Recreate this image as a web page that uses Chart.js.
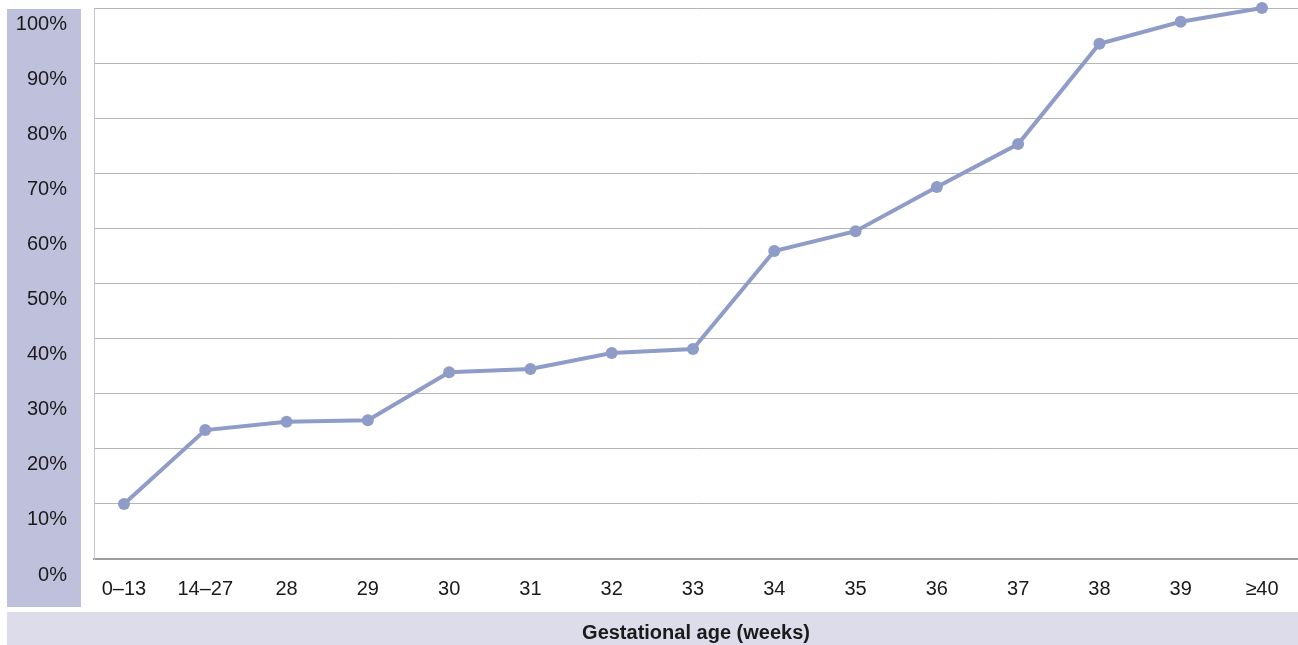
<!DOCTYPE html>
<html>
<head>
<meta charset="utf-8">
<script src="https://cdn.jsdelivr.net/npm/chart.js@4/dist/chart.umd.min.js"></script>
<style>
  html, body { margin: 0; padding: 0; background: #ffffff; }
  #wrap { width: 1298px; height: 645px; position: relative; }
</style>
</head>
<body>
<div id="wrap"><canvas id="ageChart"></canvas></div>
<script>
// Nhãn trục x (tuần thai)
const categories = ['0\u201313', '14\u201327', '28', '29', '30', '31', '32', '33', '34', '35', '36', '37', '38', '39', '\u226540'];
// Giá trị tích lũy (%)
const cumulative = [10.0, 23.4, 24.9, 25.2, 33.9, 34.5, 37.4, 38.1, 55.9, 59.5, 67.5, 75.3, 93.5, 97.5, 100];
const yTicks = [0, 10, 20, 30, 40, 50, 60, 70, 80, 90, 100];

const fontFamily = "'Liberation Sans Narrow', 'Arial Narrow', 'Liberation Sans', sans-serif";

// Vẽ dải nền tím nhạt bên trái và dưới
const bandPlugin = {
    id: 'bands',
    beforeDraw: function(chart) {
        const ctx = chart.ctx;
        ctx.save();
        ctx.fillStyle = '#bfc0dc';
        ctx.fillRect(7, 9, 74, 598);
        ctx.fillStyle = '#dcdcea';
        ctx.fillRect(7, 612, 1291, 33);
        ctx.restore();
    }
};

const ageCtx = document.getElementById('ageChart');
new Chart(ageCtx, {
    type: 'line',
    data: {
        datasets: [{
            label: 'Cumulative',
            data: cumulative.map(function(v, i) { return { x: i, y: v }; }),
            borderColor: '#8f9cc8',
            backgroundColor: '#8f9cc8',
            borderWidth: 4,
            pointRadius: 6,
            pointHoverRadius: 6,
            pointBackgroundColor: '#8f9cc8',
            pointBorderWidth: 0,
            tension: 0,
            clip: false
        }]
    },
    options: {
        responsive: true,
        maintainAspectRatio: false,
        animation: false,
        layout: {
            autoPadding: false,
            padding: { top: 8, right: 0, bottom: 0, left: 0 }
        },
        plugins: {
            legend: { display: false },
            tooltip: { enabled: false }
        },
        scales: {
            x: {
                type: 'linear',
                min: -0.369,
                max: 14.443,
                afterFit: function(scale) {
                    scale.height = 86;
                    scale.paddingLeft = 0;
                    scale.paddingRight = 0;
                },
                grid: { display: false, drawTicks: false },
                border: { display: true, color: '#9a9ca0', width: 2 },
                ticks: {
                    stepSize: 1,
                    includeBounds: false,
                    autoSkip: false,
                    maxRotation: 0,
                    padding: 18,
                    color: '#1a1a1a',
                    font: { family: fontFamily, size: 20 },
                    callback: function(value) {
                        return Number.isInteger(value) && categories[value] !== undefined ? categories[value] : '';
                    }
                },
                title: {
                    display: true,
                    text: 'Gestational age (weeks)',
                    color: '#1a1a1a',
                    font: { family: fontFamily, size: 20, weight: 'bold' },
                    padding: { top: 0, bottom: 0 }
                }
            },
            y: {
                min: 0,
                max: 100,
                afterFit: function(scale) {
                    scale.width = 94;
                    scale.paddingTop = 0;
                    scale.paddingBottom = 0;
                },
                afterBuildTicks: function(scale) {
                    scale.ticks = yTicks.map(function(v) { return { value: v }; });
                },
                grid: { color: '#b4b5b7', lineWidth: 1, drawTicks: false },
                border: { display: true, color: '#c4c5c7', width: 1 },
                ticks: {
                    padding: 27,
                    labelOffset: 16,
                    color: '#1a1a1a',
                    font: { family: fontFamily, size: 20 },
                    callback: function(value) { return value + '%'; }
                }
            }
        }
    },
    plugins: [bandPlugin]
});
</script>
</body>
</html>
